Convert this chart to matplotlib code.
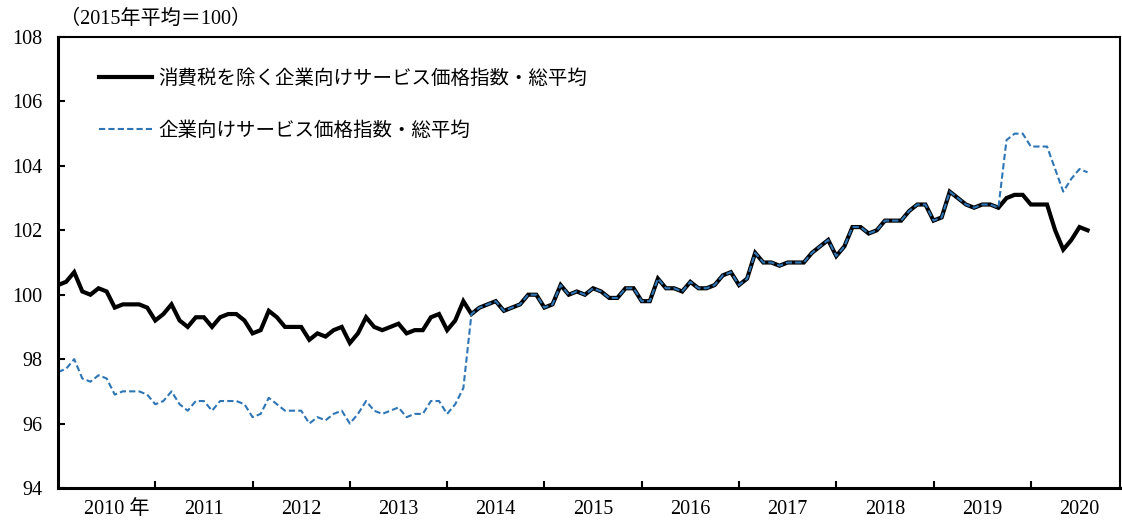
import matplotlib
matplotlib.use("Agg")
import matplotlib.pyplot as plt
import numpy as np

plt.rcParams['font.family'] = ['Liberation Serif', 'Noto Sans CJK JP']

# monthly values, Jan 2010 - Aug 2020 (2015 average = 100)
excl_tax = [
    100.3, 100.4, 100.7, 100.1, 100.0, 100.2, 100.1, 99.6, 99.7, 99.7, 99.7, 99.6,   # 2010
    99.2, 99.4, 99.7, 99.2, 99.0, 99.3, 99.3, 99.0, 99.3, 99.4, 99.4, 99.2,          # 2011
    98.8, 98.9, 99.5, 99.3, 99.0, 99.0, 99.0, 98.6, 98.8, 98.7, 98.9, 99.0,          # 2012
    98.5, 98.8, 99.3, 99.0, 98.9, 99.0, 99.1, 98.8, 98.9, 98.9, 99.3, 99.4,          # 2013
    98.9, 99.2, 99.8, 99.4, 99.6, 99.7, 99.8, 99.5, 99.6, 99.7, 100.0, 100.0,        # 2014
    99.6, 99.7, 100.3, 100.0, 100.1, 100.0, 100.2, 100.1, 99.9, 99.9, 100.2, 100.2,  # 2015
    99.8, 99.8, 100.5, 100.2, 100.2, 100.1, 100.4, 100.2, 100.2, 100.3, 100.6, 100.7,  # 2016
    100.3, 100.5, 101.3, 101.0, 101.0, 100.9, 101.0, 101.0, 101.0, 101.3, 101.5, 101.7,  # 2017
    101.2, 101.5, 102.1, 102.1, 101.9, 102.0, 102.3, 102.3, 102.3, 102.6, 102.8, 102.8,  # 2018
    102.3, 102.4, 103.2, 103.0, 102.8, 102.7, 102.8, 102.8, 102.7, 103.0, 103.1, 103.1,  # 2019
    102.8, 102.8, 102.8, 102.0, 101.4, 101.7, 102.1, 102.0,                          # 2020
]
all_items = [
    97.6, 97.7, 98.0, 97.4, 97.3, 97.5, 97.4, 96.9, 97.0, 97.0, 97.0, 96.9,          # 2010
    96.6, 96.7, 97.0, 96.6, 96.4, 96.7, 96.7, 96.4, 96.7, 96.7, 96.7, 96.6,          # 2011
    96.2, 96.3, 96.8, 96.6, 96.4, 96.4, 96.4, 96.0, 96.2, 96.1, 96.3, 96.4,          # 2012
    96.0, 96.3, 96.7, 96.4, 96.3, 96.4, 96.5, 96.2, 96.3, 96.3, 96.7, 96.7,          # 2013
    96.3, 96.6, 97.1, 99.4, 99.6, 99.7, 99.8, 99.5, 99.6, 99.7, 100.0, 100.0,        # 2014
    99.6, 99.7, 100.3, 100.0, 100.1, 100.0, 100.2, 100.1, 99.9, 99.9, 100.2, 100.2,  # 2015
    99.8, 99.8, 100.5, 100.2, 100.2, 100.1, 100.4, 100.2, 100.2, 100.3, 100.6, 100.7,  # 2016
    100.3, 100.5, 101.3, 101.0, 101.0, 100.9, 101.0, 101.0, 101.0, 101.3, 101.5, 101.7,  # 2017
    101.2, 101.5, 102.1, 102.1, 101.9, 102.0, 102.3, 102.3, 102.3, 102.6, 102.8, 102.8,  # 2018
    102.3, 102.4, 103.2, 103.0, 102.8, 102.7, 102.8, 102.8, 102.7, 104.8, 105.0, 105.0,  # 2019
    104.6, 104.6, 104.6, 103.9, 103.2, 103.6, 103.9, 103.8,                          # 2020
]
years = ['2010 年', '2011', '2012', '2013', '2014', '2015', '2016', '2017', '2018', '2019', '2020']
label_excl = '消費税を除く企業向けサービス価格指数・総平均'
label_all = '企業向けサービス価格指数・総平均'

x = np.arange(len(excl_tax))

fig = plt.figure(figsize=(11.22, 5.22), dpi=100)
ax = fig.add_axes([58 / 1122, 1 - 488 / 522, 1062 / 1122, 451 / 522])

ax.plot(x, excl_tax, color='black', lw=3.0, solid_joinstyle='miter', label=label_excl)
ax.plot(x, all_items, color='#2E75B6', lw=1.5, dashes=(3, 1.5), label=label_all)

ax.set_xlim(0, 131)
ax.set_ylim(94, 108)
ax.set_yticks(np.arange(94, 109, 2))

# year boundaries as ticks, year names centred in between
ax.set_xticks(np.arange(12, 131, 12))
ax.set_xticklabels([])
mid = [6 + 12 * k for k in range(len(years))]
mid[0] = 7.3
ax.set_xticks(mid, minor=True)
ax.set_xticklabels(years, minor=True)

ax.tick_params(axis='x', which='major', direction='in', length=5, width=1.5)
ax.tick_params(axis='x', which='minor', length=0, pad=9, labelsize=14.5)
ax.tick_params(axis='y', direction='in', length=5, width=1.5, pad=11, labelsize=14.5)

for s in ax.spines.values():
    s.set_linewidth(1.5)
ax.spines['left'].set_linewidth(2.2)
ax.spines['bottom'].set_linewidth(2.2)

leg = ax.legend(loc='upper left', bbox_to_anchor=(0.039, 0.931), frameon=False,
                prop={'family': ['Noto Sans CJK JP'], 'size': 14},
                handlelength=2.7, handletextpad=0.35, labelspacing=1.6,
                borderpad=0, borderaxespad=0)

fig.text(60 / 1122, 1 - 19 / 522, '（2015年平均＝100）', fontsize=14.5, va='center', ha='left',
         family=['Liberation Serif', 'Noto Sans CJK JP'])

fig.savefig('out.png', dpi=100)
